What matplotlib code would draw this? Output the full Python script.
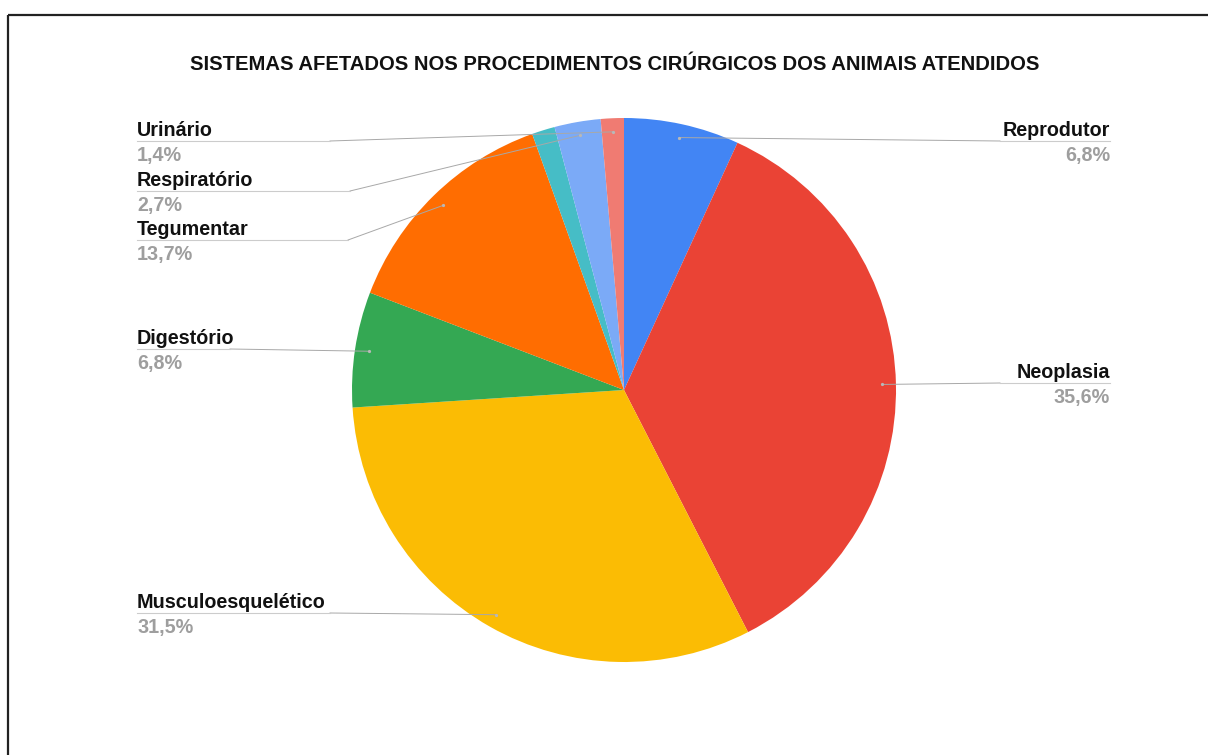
import numpy as np
import matplotlib.pyplot as plt

plt.rcParams['font.family'] = ['Liberation Sans', 'DejaVu Sans']

# counts per system (73 procedures in total)
categories = ['Reprodutor', 'Neoplasia', 'Musculoesquelético', 'Digestório',
              'Tegumentar', '', 'Respiratório', 'Urinário']
counts = [5, 26, 23, 5, 10, 1, 2, 1]
colors = ['#4285F4', '#EA4335', '#FBBC04', '#34A853',
          '#FF6D01', '#46BDC6', '#7BAAF7', '#F07B72']
title = 'SISTEMAS AFETADOS NOS PROCEDIMENTOS CIRÚRGICOS DOS ANIMAIS ATENDIDOS'

W, H = 1208, 755
cx, cy, R = 624, 390, 272

# label placement: side, y of the rule under the name, x where the rule bends
label_pos = {
    'Reprodutor': ('right', 141, 1000),
    'Neoplasia': ('right', 383, 1000),
    'Musculoesquelético': ('left', 613, 330),
    'Digestório': ('left', 349, 230),
    'Tegumentar': ('left', 240, 348),
    'Respiratório': ('left', 191, 350),
    'Urinário': ('left', 141, 330),
}

fig = plt.figure(figsize=(W / 100, H / 100), dpi=100)
ax = fig.add_axes([0, 0, 1, 1])

ax.pie(counts, colors=colors, startangle=-90, counterclock=True,
       center=(cx, cy), radius=R, wedgeprops=dict(linewidth=0))
ax.set_xlim(0, W)
ax.set_ylim(H, 0)
ax.set_aspect('equal')
ax.axis('off')

total = sum(counts)
cum = np.cumsum([0] + counts)
for i, name in enumerate(categories):
    if not name:
        continue
    mid = (cum[i] + counts[i] / 2) / total
    ang = np.deg2rad(-90 + 360 * mid)
    axx = cx + 0.95 * R * np.cos(ang)
    ayy = cy + 0.95 * R * np.sin(ang)
    side, ly, bend = label_pos[name]
    pct = f'{100 * counts[i] / total:.1f}%'.replace('.', ',')
    if side == 'right':
        tx, ha = 1110, 'right'
    else:
        tx, ha = 137, 'left'
    ax.plot([axx, bend], [ayy, ly], color='#a8a8a8', lw=0.7)
    ax.plot([bend, tx], [ly, ly], color='#cccccc', lw=0.8)
    ax.plot([axx], [ayy], 'o', color='#b8b8b8', ms=1.3)
    ax.text(tx, ly - 1, name, ha=ha, va='bottom', fontsize=14.2,
            fontweight='bold', color='#111111')
    ax.text(tx, ly + 5, pct, ha=ha, va='top', fontsize=14.2,
            fontweight='bold', color='#9e9e9e')

ax.text(615, 65, title, ha='center', va='center', fontsize=14.6,
        fontweight='bold', color='#111111')

# frame lines along the top and left
ax.plot([8, W], [15, 15], color='#222222', lw=1.6, solid_capstyle='butt')
ax.plot([8, 8], [15, H], color='#222222', lw=1.6, solid_capstyle='butt')

fig.savefig('out.png', dpi=100)
